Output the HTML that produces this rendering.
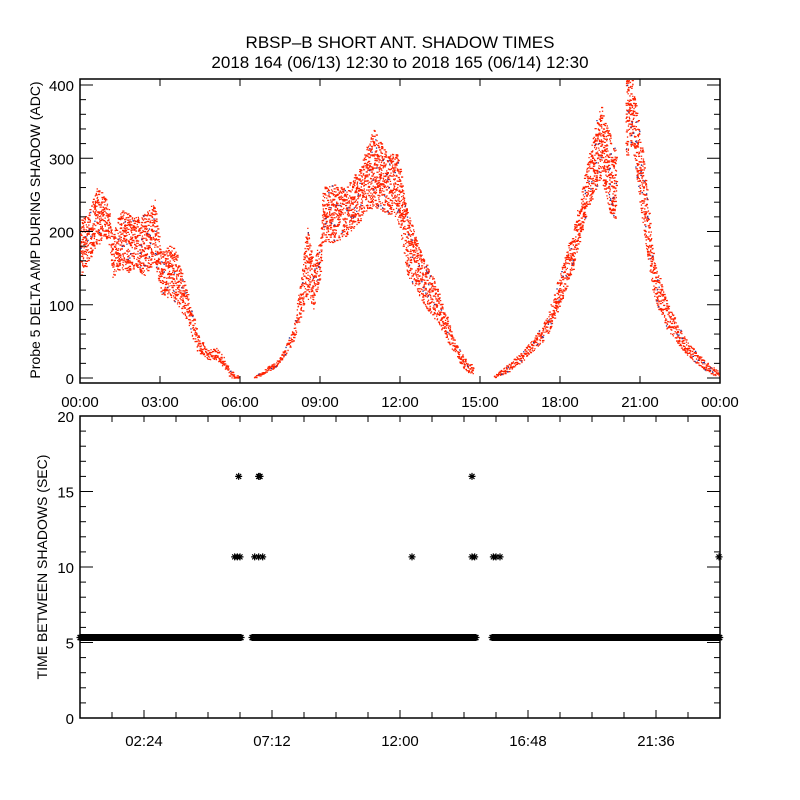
<!DOCTYPE html>
<html><head><meta charset="utf-8"><style>
body{margin:0;background:#fff}
svg{display:block}
text{font-family:"Liberation Sans","DejaVu Sans",sans-serif;fill:#000}
</style></head><body>
<svg id="chart" width="800" height="800" viewBox="0 0 800 800" xmlns="http://www.w3.org/2000/svg">
<rect width="800" height="800" fill="#fff"/>
<text x="400" y="48" font-size="17" text-anchor="middle">RBSP–B SHORT ANT. SHADOW TIMES</text>
<text x="400" y="68" font-size="17" text-anchor="middle">2018 164 (06/13) 12:30 to 2018 165 (06/14) 12:30</text>
<g id="topPanel"></g>
<g id="botPanel"></g>
</svg>
<script>
// Top panel: amplitude band (lower/upper) vs time (hours)
const ampTimes1=[0,0.3,0.6,0.9,1.1,1.2,1.5,1.8,2.1,2.4,2.8,3.0,3.5,4.0,4.4,4.75,5.1,5.4,5.6,5.95];
const ampLow1 =[138,160,180,190,179,134,150,145,150,140,160,116,106,79,34,25,25,12,1,0];
const ampHigh1=[216,225,261,250,229,193,230,225,220,225,245,175,184,120,61,38,42,28,11,3];
const ampTimes2=[6.5,7.0,7.5,8.0,8.3,8.5,8.75,9.0,9.1,9.5,10.0,10.5,11.0,11.5,11.9,12.25,12.8,13.4,14.0,14.4,14.75];
const ampLow2 =[0,8,20,52,88,110,93,143,188,185,195,215,235,225,216,143,105,75,35,11,5];
const ampHigh2=[2,15,29,70,143,210,157,192,261,265,262,290,343,305,308,230,170,124,55,29,15];
const ampTimes3=[15.5,16.0,16.5,17.0,17.5,18.0,18.5,19.0,19.5,19.8,20.1];
const ampLow3 =[0,8,20,38,56,102,151,229,274,230,215];
const ampHigh3=[3,18,34,55,83,147,206,293,375,340,310];
const ampTimes4=[20.45,20.7,21.1,21.5,22.0,22.8,23.4,23.95];
const ampLow4 =[300,320,206,111,66,29,12,0];
const ampHigh4=[410,407,307,165,102,48,25,11];
// Bottom panel: time between shadows (sec)
const baseValue=5.33;
const baseSegStart=[0,6.45,15.45];
const baseSegEnd=[6.05,14.85,24];
const starTimes=[5.8,5.9,6.0,6.55,6.7,6.85,12.45,14.7,14.8,15.5,15.6,15.75,24.0,5.95,6.7,6.75,14.7];
const starValues=[10.67,10.67,10.67,10.67,10.67,10.67,10.67,10.67,10.67,10.67,10.67,10.67,10.67,16,16,16,16];
const topYTicks=[0,100,200,300,400];
const topXTicks=["00:00","03:00","06:00","09:00","12:00","15:00","18:00","21:00","00:00"];
const botYTicks=[0,5,10,15,20];
const botXTicks=["02:24","07:12","12:00","16:48","21:36"];

const NS="http://www.w3.org/2000/svg";
function mk(tag,attrs,parent){const e=document.createElementNS(NS,tag);for(const k in attrs)e.setAttribute(k,attrs[k]);parent.appendChild(e);return e;}
const L=80,R=720;
const tx=h=>L+(R-L)*h/24;
const T={top:79,bot:383,y0:378,y400:85};
const ty=v=>T.y0+(T.y400-T.y0)*v/400;
const B={top:416,bot:718};
const by=v=>B.bot+(B.top-B.bot)*v/20;
function hsh(k){const s=Math.sin(k*12.9898+78.233)*43758.5453;return s-Math.floor(s);}

const topG=document.getElementById('topPanel');
const botG=document.getElementById('botPanel');

let f=mk('rect',{x:L,y:T.top,width:R-L,height:T.bot-T.top,fill:'none',stroke:'#000','stroke-width':1.5},topG);


function bandPath(times,lo,hi,seed){
  let d='',db='';let k=seed;let acc=0;
  for(let i=0;i<times.length-1;i++){
    const t0=times[i],t1=times[i+1];
    const steps=Math.max(2,Math.round((t1-t0)*267));
    for(let j=0;j<steps;j++){
      const fr=j/steps;
      const l=lo[i]+(lo[i+1]-lo[i])*fr,h=hi[i]+(hi[i+1]-hi[i])*fr;
      const H=(h-l)*0.733;
      acc+=(0.22*H+1.6)/10;
      while(acc>=1){
        acc-=1;k++;
        const t=t0+(t1-t0)*(j+hsh(k+0.5))/steps;
        const v=l+(h-l)*hsh(k);
        const x=tx(t).toFixed(1),y=Math.max(T.top+1,ty(v)).toFixed(1);
        const w=hsh(k+7)<0.35?2.2:1.3;
        if(hsh(k+3)<0.04) db+=`M${x} ${y}h1.3v1.3h-1.3z`;
        else d+=`M${x} ${y}h${w}v1.3h-${w}z`;
      }
    }
  }
  return [d,db];
}
[[ampTimes1,ampLow1,ampHigh1],[ampTimes2,ampLow2,ampHigh2],[ampTimes3,ampLow3,ampHigh3],[ampTimes4,ampLow4,ampHigh4]].forEach((s,i)=>{
  const r=bandPath(s[0],s[1],s[2],i*100000);
  const p=mk('path',{d:r[0],fill:'#ff2200'},topG);
  
  
  const p2=mk('path',{d:r[1],fill:'#223399'},topG);
  
  
});
for(let v=0;v<=400;v+=20){
  const y=ty(v);const maj=v%100===0;const len=maj?13:6;
  mk('line',{x1:L,x2:L+len,y1:y,y2:y,stroke:'#000'},topG);
  mk('line',{x1:R,x2:R-len,y1:y,y2:y,stroke:'#000'},topG);
}
topYTicks.forEach(v=>{
  const t=mk('text',{x:74,y:ty(v)+6,'font-size':15,'text-anchor':'end'},topG);t.textContent=v;
  
  
});
topXTicks.forEach((lab,i)=>{
  const x=tx(i*3);
  mk('line',{x1:x,x2:x,y1:T.bot,y2:T.bot-7,stroke:'#000'},topG);
  mk('line',{x1:x,x2:x,y1:T.top,y2:T.top+7,stroke:'#000'},topG);
  const t=mk('text',{x:x,y:407,'font-size':15,'text-anchor':'middle'},topG);t.textContent=lab;
  
  
});
let yl=mk('text',{x:0,y:0,'font-size':14,'text-anchor':'middle',transform:'translate(40,230) rotate(-90)'},topG);
yl.textContent='Probe 5 DELTA AMP DURING SHADOW (ADC)';



f=mk('rect',{x:L,y:B.top,width:R-L,height:B.bot-B.top,fill:'none',stroke:'#000','stroke-width':1.5},botG);


function star(x,y){const s=3.5,d=2.5;return `M${x-s} ${y}h${2*s}M${x} ${y-s}v${2*s}M${x-d} ${y-d}l${2*d} ${2*d}M${x-d} ${y+d}l${2*d} ${-2*d}`;}
let bd='';
for(let i=0;i<baseSegStart.length;i++){
  for(let t=baseSegStart[i];t<=baseSegEnd[i]+1e-9;t+=0.02){bd+=star(Math.min(tx(t),R),by(baseValue));}
}
const bp=mk('path',{d:bd,stroke:'#000','stroke-width':1.2,fill:'none'},botG);


let sd='';
starTimes.forEach((t,i)=>{sd+=star(Math.min(tx(t),R-1),by(starValues[i]));});
const sp=mk('path',{d:sd,stroke:'#000','stroke-width':1.2,fill:'none'},botG);


for(let v=0;v<=20;v+=1){
  const y=by(v);const maj=v%5===0;const len=maj?13:6;
  mk('line',{x1:L,x2:L+len,y1:y,y2:y,stroke:'#000'},botG);
  mk('line',{x1:R,x2:R-len,y1:y,y2:y,stroke:'#000'},botG);
}
botYTicks.forEach(v=>{
  const t=mk('text',{x:74,y:by(v)+6,'font-size':15,'text-anchor':'end'},botG);t.textContent=v;
  
  
});
for(let h=1.2;h<24;h+=1.2){
  const x=tx(h);const maj=Math.abs((h/2.4)-Math.round(h/2.4))<1e-6&&Math.round(h/2.4)%2===1;
  mk('line',{x1:x,x2:x,y1:B.bot,y2:B.bot-(maj?8:6),stroke:'#000'},botG);
  mk('line',{x1:x,x2:x,y1:B.top,y2:B.top+6,stroke:'#000'},botG);
}
botXTicks.forEach((lab,i)=>{
  const x=tx(2.4+4.8*i);
  const t=mk('text',{x:x,y:746,'font-size':15,'text-anchor':'middle'},botG);t.textContent=lab;
  
  
});
yl=mk('text',{x:0,y:0,'font-size':14,'text-anchor':'middle',transform:'translate(47,567) rotate(-90)'},botG);
yl.textContent='TIME BETWEEN SHADOWS (SEC)';


</script>
</body></html>
